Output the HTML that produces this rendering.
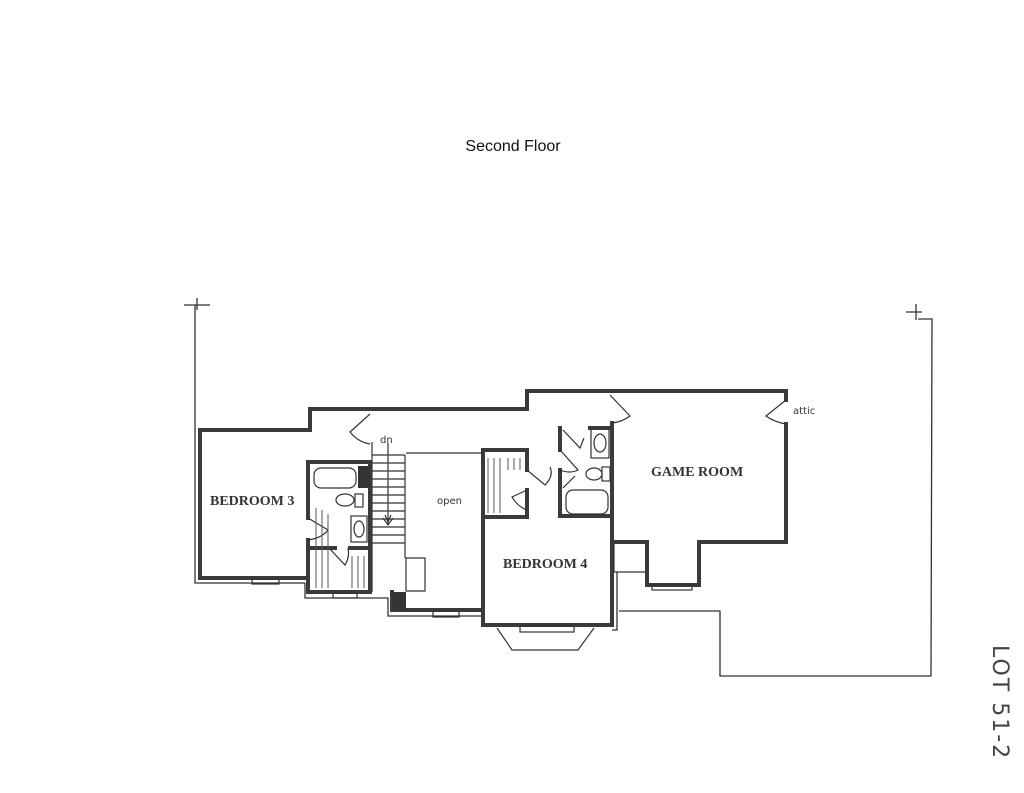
<!DOCTYPE html>
<html><head><meta charset="utf-8"><style>
html,body{margin:0;padding:0;background:#fff;}
svg{display:block;}
</style></head><body>
<svg width="1024" height="793" viewBox="0 0 1024 793" xmlns="http://www.w3.org/2000/svg">
<rect width="1024" height="793" fill="#fff"/>
<text x="513" y="151" font-family="Liberation Sans, sans-serif" font-size="16" text-anchor="middle" fill="#111">Second Floor</text>
<g stroke="#333" fill="none" stroke-width="1.3">
<!-- property lines -->
<path d="M184 305 L210 305 M197 298 L197 310 M195 305 L195 583 L305 583"/>
<path d="M906 312 L922 312 M916 304 L916 320 M918 319 L932 319 L931 676 L720 676 L720 611 L619 611"/>
<path d="M617 572 L617 630 L612 630"/>
<path d="M305 583 L305 598 L388 598 L388 616 L483 616"/>
</g>
<g stroke="#3a3a3a" fill="none" stroke-width="4" stroke-linecap="square">
<path d="M310 430 L200 430 L200 578 L305 578"/>
<path d="M310 430 L310 409 L527 409 L527 391 L786 391 L786 400"/>
<path d="M786 424 L786 542 L699 542 L699 585 L647 585 L647 542 L612 542"/>
<path d="M612 423 L612 625 L483 625 L483 450 L527 450 L527 470"/>
<path d="M527 490 L527 517 L485 517"/>
<path d="M308 462 L370 462 L370 592"/>
<path d="M308 462 L308 518 M308 540 L308 592 L370 592"/>
<path d="M308 548 L335 548 M350 548 L370 548"/>
<path d="M392 592 L392 610 L483 610"/>
<path d="M560 428 L560 450 M560 470 L560 516 L612 516"/>
<path d="M590 428 L612 428 L612 440"/>
</g>
<rect x="392" y="592" width="14" height="18" fill="#333"/>
<rect x="358" y="466" width="12" height="22" fill="#333"/>
<g stroke="#333" fill="none" stroke-width="1.2">
<!-- stairs -->
<path d="M372 442 L372 592 M405 455 L405 558 M406 453 L483 453"/>
<path d="M372 455 L405 455 M372 463 L405 463 M372 471 L405 471 M372 479 L405 479 M372 487 L405 487 M372 495 L405 495 M372 503 L405 503 M372 511 L405 511 M372 519 L405 519 M372 527 L405 527 M372 535 L405 535 M372 543 L405 543"/>
<path d="M406 558 L425 558 L425 591 L406 591 Z"/>
<path d="M388 443 L388 525 M383 518 L388 525 L393 518 M385 515 L388 522 L391 515"/>
<!-- fixtures -->
<rect x="314" y="468" width="42" height="20" rx="7"/>
<ellipse cx="345" cy="500" rx="9" ry="6"/><rect x="355" y="494" width="8" height="13"/>
<rect x="351" y="516" width="16" height="26"/><ellipse cx="359" cy="529" rx="5" ry="8"/>
<rect x="591" y="428" width="18" height="30"/><ellipse cx="600" cy="443" rx="6" ry="9"/>
<ellipse cx="594" cy="474" rx="8" ry="6"/><rect x="602" y="467" width="8" height="14"/>
<rect x="566" y="490" width="42" height="24" rx="7"/>
<!-- doors -->
<path d="M370 414 L350 432 Q358 442 370 444"/>
<path d="M308 518 L328 530 Q322 538 308 540"/>
<path d="M329 548 L345 565 Q350 557 348 548"/>
<path d="M610 395 L630 416 Q622 422 612 423"/>
<path d="M786 400 L766 416 Q774 422 786 424"/>
<path d="M527 470 L545 485 Q554 476 550 467"/>
<path d="M527 490 L512 497 Q518 507 527 510"/>
<path d="M560 450 L578 470 Q570 474 560 470"/>
<path d="M575 476 L563 488"/>
<path d="M563 430 L580 448 L584 438"/>
<!-- windows -->
<rect x="252" y="579" width="27" height="5"/>
<rect x="333" y="593" width="24" height="5"/>
<rect x="433" y="611" width="26" height="6"/>
<rect x="520" y="626" width="54" height="6"/>
<rect x="652" y="585" width="40" height="5"/>
<path d="M497 628 L512 650 L578 650 L594 628"/>
<path d="M614 542 L614 572 L645 572"/>
</g>
<g stroke="#555" stroke-width="1" fill="none">
<path d="M316 508 v80 M322 510 v78 M328 514 v74 M352 556 v32 M358 556 v32 M364 556 v32"/>
<path d="M488 458 v55 M494 458 v55 M500 458 v55 M508 458 v12 M514 458 v12 M520 458 v12"/>
</g>
<g font-family="Liberation Serif, serif" font-weight="bold" font-size="14" fill="#333">
<text x="210" y="505">BEDROOM 3</text>
<text x="503" y="568">BEDROOM 4</text>
<text x="651" y="476">GAME ROOM</text>
</g>
<g font-family="DejaVu Sans, sans-serif" font-size="10" fill="#333">
<text x="380" y="443">dn</text>
<text x="437" y="504">open</text>
<text x="793" y="414">attic</text>
</g>
<text x="0" y="0" transform="translate(993,645) rotate(90)" font-family="DejaVu Sans, sans-serif" font-size="22" fill="#444" letter-spacing="2">LOT 51-2</text>
</svg>
</body></html>
